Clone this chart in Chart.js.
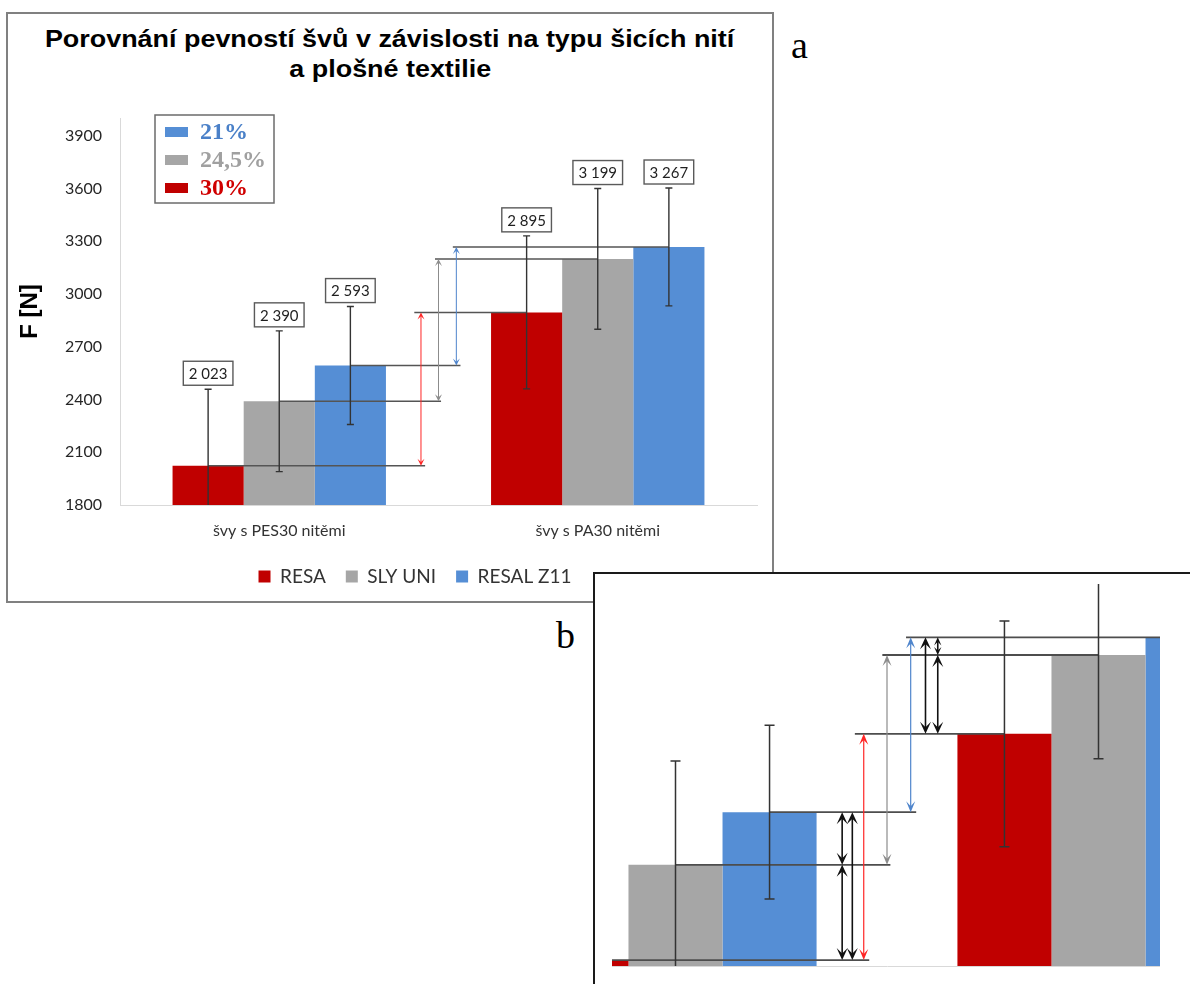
<!DOCTYPE html>
<html><head><meta charset="utf-8">
<script src="https://cdn.jsdelivr.net/npm/chart.js@4.4.1/dist/chart.umd.min.js"></script>
<style>
html,body{margin:0;padding:0;background:#fff;}
body{width:1190px;height:984px;position:relative;overflow:hidden;font-family:'Liberation Sans',Arial,sans-serif;}
#boxA{position:absolute;left:6px;top:12px;width:768px;height:591px;box-sizing:border-box;border:2px solid #808080;}
#title{position:absolute;left:7px;top:24px;width:766px;text-align:center;font:bold 23px/30px 'Liberation Sans',Arial,sans-serif;color:#000;}
#title div span{display:inline-block;transform:scaleX(1.17);transform-origin:center;white-space:nowrap;}
#ca{position:absolute;left:7px;top:90px;}
#labA{position:absolute;left:791px;top:26px;font:38px/38px 'Liberation Serif',serif;color:#000;}
#boxB{position:absolute;left:593px;top:572px;width:620px;height:430px;box-sizing:border-box;border-top:2px solid #1a1a1a;border-left:2px solid #1a1a1a;background:#fff;}
#clipB{position:absolute;left:612px;top:584px;width:548px;height:400px;overflow:hidden;}
#cb{position:absolute;left:-148px;top:-33px;}
#labB{position:absolute;left:556px;top:616px;font:38px/38px 'Liberation Serif',serif;color:#000;}
</style></head>
<body>
<div id="boxA"></div>
<div id="title"><div><span>Porovnání pevností švů v závislosti na typu šicích nití</span></div><div><span>a plošné textilie</span></div></div>
<canvas id="ca" width="816" height="510"></canvas>
<div id="labA">a</div>
<div id="boxB"></div>
<div id="clipB"><canvas id="cb" width="846" height="425"></canvas></div>
<div id="labB">b</div>
<script>
// ---- data ----
const categories = ['švy s PES30 nitěmi', 'švy s PA30 nitěmi'];
const seriesNames = ['RESA', 'SLY UNI', 'RESAL Z11'];
const resa = [2023, 2895];
const slyUni = [2390, 3199];
const resalZ11 = [2593, 3267];
const resaErr = [435, 435];
const slyUniErr = [400, 400];
const resalZ11Err = [335, 335];
const insetLabels = ['21%', '24,5%', '30%'];   // RESAL Z11, SLY UNI, RESA
const insetSeries = [2, 1, 0];
const yAxisTitle = 'F [N]';
const yMin = 1800, yMax = 4000, yStep = 300;
const zoomMin = 2000, zoomMax = 3600;

// ---- styles ----
const COLORS = ['#C00000', '#A6A6A6', '#558ED5'];
const ARROW_COLORS = ['#FF2626', '#8C8C8C', '#4F85CC'];
const INSET_TEXT = ['#D00000', '#A0A0A0', '#4A80C8'];
const values = [resa, slyUni, resalZ11];
const errors = [resaErr, slyUniErr, resalZ11Err];

// connector lines: [series, category, startFraction|null(bar centre), endFraction|null(bar centre)]
const LINE_SPANS = [[0,0,null,0.458],[1,0,null,0.508],[2,0,null,0.569],[0,1,0.424,null],[1,1,0.489,null],[2,1,0.545,null]];
// coloured arrows: [series, x fraction] from category 0 value to category 1 value
const COLOR_ARROWS = [[0,0.445],[1,0.500],[2,0.556]];
// black arrows (panel b): [[s,i],[s,i], x fraction]
const BLACK_ARROWS = [[[2,0],[1,0],0.394],[[1,0],[0,0],0.394],[[2,0],[0,0],0.418],[[2,1],[0,1],0.591],[[1,1],[0,1],0.620],[[2,1],[1,1],0.620]];

function fmt(v){return String(v).replace(/\B(?=(\d{3})+(?!\d))/g,' ');}

function drawArrow(ctx,x,y1,y2,color,lw,len,hw){
  const top=Math.min(y1,y2), bot=Math.max(y1,y2);
  const L=Math.min(len,(bot-top)/2.2), H=hw*L/len;
  ctx.strokeStyle=color; ctx.fillStyle=color; ctx.lineWidth=lw;
  ctx.beginPath(); ctx.moveTo(x,top+L*0.5); ctx.lineTo(x,bot-L*0.5); ctx.stroke();
  ctx.beginPath(); ctx.moveTo(x,top); ctx.lineTo(x-H,top+L); ctx.lineTo(x,top+L*0.55); ctx.lineTo(x+H,top+L); ctx.closePath(); ctx.fill();
  ctx.beginPath(); ctx.moveTo(x,bot); ctx.lineTo(x-H,bot-L); ctx.lineTo(x,bot-L*0.55); ctx.lineTo(x+H,bot-L); ctx.closePath(); ctx.fill();
}

const annot = {
  id:'annot',
  afterDatasetsDraw(chart, args, o){
    const {ctx, chartArea:ca, scales:{x,y}} = chart;
    const c0 = x.getPixelForValue(0), cw = x.getPixelForValue(1)-c0;
    const fx = f => c0 + f*cw;
    const bx = (s,i) => chart.getDatasetMeta(s).data[i].x;
    const vy = (s,i) => y.getPixelForValue(values[s][i]);
    ctx.save();
    ctx.beginPath(); ctx.rect(ca.left, ca.top-1, ca.right-ca.left, ca.bottom-ca.top+1); ctx.clip();
    // connector lines
    ctx.strokeStyle=o.lineColor; ctx.lineWidth=o.lineWidth;
    LINE_SPANS.forEach(([s,i,a,b])=>{
      const Y=vy(s,i), xa=a===null?bx(s,i):fx(a), xb=b===null?bx(s,i):fx(b);
      ctx.beginPath(); ctx.moveTo(xa,Y); ctx.lineTo(xb,Y); ctx.stroke();
    });
    // error bars
    ctx.strokeStyle=o.errColor; ctx.lineWidth=o.errLw;
    values.forEach((arr,s)=>arr.forEach((v,i)=>{
      const X=bx(s,i), yT=y.getPixelForValue(v+errors[s][i]), yB=y.getPixelForValue(v-errors[s][i]);
      ctx.beginPath(); ctx.moveTo(X,yT); ctx.lineTo(X,yB);
      ctx.moveTo(X-o.capHw,yT); ctx.lineTo(X+o.capHw,yT);
      ctx.moveTo(X-o.capHw,yB); ctx.lineTo(X+o.capHw,yB); ctx.stroke();
    }));
    // coloured arrows
    COLOR_ARROWS.forEach(([s,f])=>drawArrow(ctx,fx(f),vy(s,0),vy(s,1),ARROW_COLORS[s],o.cLw,o.cLen,o.cHw));
    if(o.black) BLACK_ARROWS.forEach(([a,b,f])=>drawArrow(ctx,fx(f),vy(a[0],a[1]),vy(b[0],b[1]),'#111',o.bLw,o.bLen,o.bHw));
    ctx.restore();
    if(o.labels){
      ctx.save();
      ctx.font='15px Lato'; ctx.textAlign='center'; ctx.textBaseline='middle';
      values.forEach((arr,s)=>arr.forEach((v,i)=>{
        const X=bx(s,i), yT=y.getPixelForValue(v+errors[s][i]);
        const t=fmt(v), w=ctx.measureText(t).width+11, h=24, top=yT-4-h;
        ctx.fillStyle='#fff'; ctx.fillRect(X-w/2,top,w,h);
        ctx.strokeStyle='#5a5a5a'; ctx.lineWidth=1.4; ctx.strokeRect(X-w/2,top,w,h);
        ctx.fillStyle='#1f1f1f'; ctx.fillText(t,X,top+h/2+1);
      }));
      ctx.restore();
    }
    if(o.inset){
      ctx.save();
      const L=ca.left+35, T=ca.top-3, W=119, H=88;
      ctx.fillStyle='#fff'; ctx.fillRect(L,T,W,H);
      ctx.strokeStyle='#6b6b6b'; ctx.lineWidth=1.5; ctx.strokeRect(L,T,W,H);
      ctx.font='bold 24px "Liberation Serif"'; ctx.textAlign='left'; ctx.textBaseline='middle';
      insetSeries.forEach((s,k)=>{
        const cy=T+17+k*28;
        ctx.fillStyle=COLORS[s]; ctx.fillRect(L+10,cy-5,23,10);
        ctx.fillStyle=INSET_TEXT[s]; ctx.fillText(insetLabels[k],L+45,cy+1);
      });
      ctx.restore();
    }
  }
};

Chart.defaults.font.family='Lato';
const mkData = () => ({
  labels: categories,
  datasets: seriesNames.map((n,s)=>({label:n, data:values[s], backgroundColor:COLORS[s], borderWidth:0}))
});

new Chart(document.getElementById('ca'), {
  type:'bar',
  data: mkData(),
  options:{
    responsive:false, animation:false, devicePixelRatio:1,
    layout:{padding:{top:28,bottom:4,left:0,right:0}},
    datasets:{bar:{categoryPercentage:0.67, barPercentage:1}},
    plugins:{
      legend:{position:'bottom', labels:{boxWidth:12, boxHeight:12, padding:20, color:'#333', font:{family:'Lato', size:19}}},
      tooltip:{enabled:false},
      annot:{labels:true, inset:true, black:false, lineColor:'#555', lineWidth:1.5, errColor:'#333', errLw:1.4, capHw:3.5, cLw:1, cLen:7, cHw:3.5}
    },
    scales:{
      x:{grid:{display:false, drawTicks:false}, border:{color:'#D9D9D9'},
         ticks:{padding:16, color:'#333', font:{family:'Lato', size:16}},
         afterFit(s){s.height=42;}},
      y:{min:yMin, max:yMax, grid:{display:false, drawTicks:false}, border:{color:'#D9D9D9'},
         ticks:{stepSize:yStep, includeBounds:false, padding:18, color:'#262626', font:{family:'Lato', size:16}, callback:v=>String(v)},
         title:{display:true, text:yAxisTitle, color:'#000', font:{family:'Liberation Sans', size:24, weight:'bold'}, padding:{top:9,bottom:0}},
         afterFit(s){s.width=113;}},
      y2:{position:'right', min:yMin, max:yMax, grid:{display:false, drawTicks:false}, border:{display:false}, ticks:{display:false},
         afterFit(s){s.width=66;}}
    }
  },
  plugins:[annot]
});

new Chart(document.getElementById('cb'), {
  type:'bar',
  data: mkData(),
  options:{
    responsive:false, animation:false, devicePixelRatio:1,
    layout:{padding:{top:0,bottom:10,left:0,right:0}},
    datasets:{bar:{categoryPercentage:0.667, barPercentage:1}},
    plugins:{
      legend:{display:false}, tooltip:{enabled:false},
      annot:{labels:false, inset:false, black:true, lineColor:'#4d4d4d', lineWidth:1.8, errColor:'#333', errLw:1.5, capHw:5, cLw:1.2, cLen:11, cHw:4.5, bLw:1.6, bLen:12, bHw:5.5}
    },
    scales:{
      x:{grid:{display:false, drawTicks:false}, border:{color:'#D9D9D9'}, ticks:{display:false}, afterFit(s){s.height=0;}},
      y:{display:false, min:zoomMin, max:zoomMax}
    }
  },
  plugins:[annot]
});
</script>
</body></html>
